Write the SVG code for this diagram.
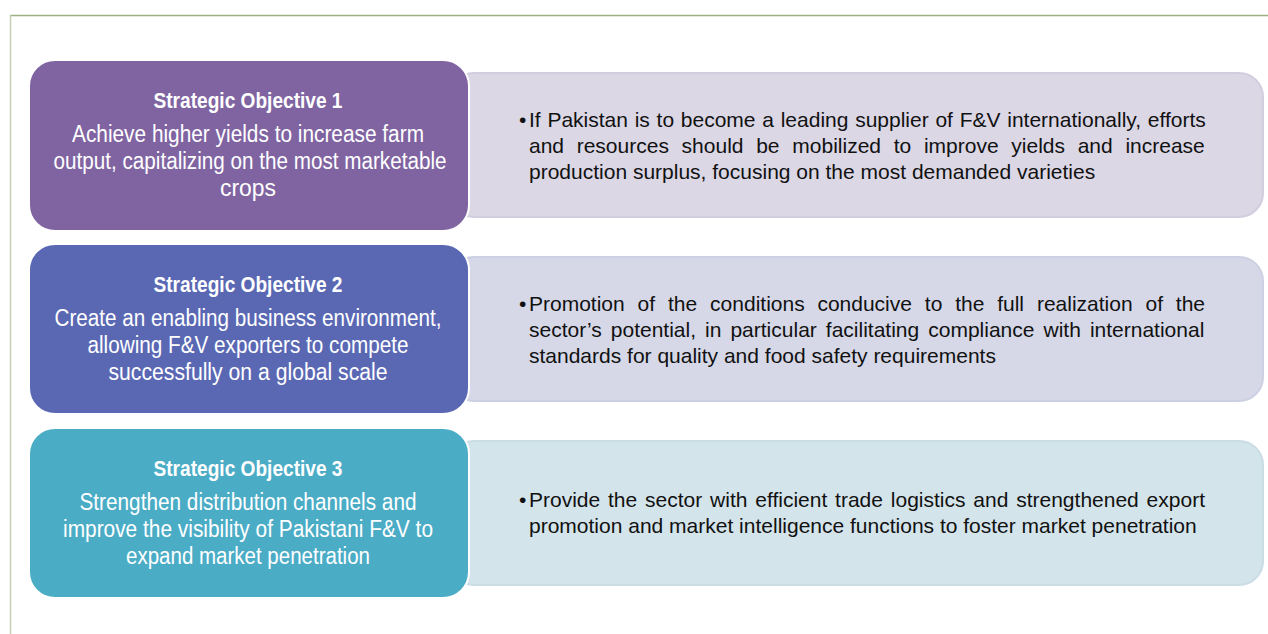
<svg xmlns="http://www.w3.org/2000/svg" width="1268" height="634" viewBox="0 0 1268 634">
<style>
.frame-top{stroke:#9cb083;stroke-width:1.5;fill:none}
.frame-left{stroke:#c6cdb6;stroke-width:1.5;fill:none}
.obj{stroke:#ffffff;stroke-width:2}
.det{stroke-width:2}
.title{font-family:"Liberation Sans",Arial,sans-serif;font-size:22px;font-weight:bold;fill:#ffffff;text-anchor:middle}
.body{font-family:"Liberation Sans",Arial,sans-serif;font-size:23px;fill:#ffffff;text-anchor:middle}
.txt{font-family:"Liberation Sans",Arial,sans-serif;font-size:21px;fill:#111111}
</style>
<rect width="1268" height="634" fill="#ffffff"/>
<path class="frame-top" d="M10 15.5 H1268"/>
<path class="frame-left" d="M10.5 15 V634"/>

<g id="detail1">
<rect class="det" x="450" y="73" width="813" height="144" rx="24" fill="#dbd7e5" stroke="#d2cddf"/>
<text class="txt" x="519" y="127">•</text>
<text class="txt" x="529" y="127" word-spacing="0.9">If Pakistan is to become a leading supplier of F&amp;V internationally, efforts</text>
<text class="txt" y="153"><tspan x="529">and</tspan> <tspan x="576.7">resources</tspan> <tspan x="681.6">should</tspan> <tspan x="756.2">be</tspan> <tspan x="792.3">mobilized</tspan> <tspan x="893.7">to</tspan> <tspan x="923.9">improve</tspan> <tspan x="1011.3">yields</tspan> <tspan x="1077.7">and</tspan> <tspan x="1125.4">increase</tspan></text>
<text class="txt" x="529" y="179">production surplus, focusing on the most demanded varieties</text>
</g>
<g id="detail2">
<rect class="det" x="450" y="257" width="813" height="144" rx="24" fill="#d6d8e7" stroke="#cdd0e2"/>
<text class="txt" x="519" y="311">•</text>
<text class="txt" y="311"><tspan x="529">Promotion</tspan> <tspan x="637.6">of</tspan> <tspan x="668">the</tspan> <tspan x="710.1">conditions</tspan> <tspan x="817.4">conducive</tspan> <tspan x="924.8">to</tspan> <tspan x="955.2">the</tspan> <tspan x="997.2">full</tspan> <tspan x="1036.9">realization</tspan> <tspan x="1145.5">of</tspan> <tspan x="1175.8">the</tspan></text>
<text class="txt" x="529" y="337" word-spacing="3.2">sector’s potential, in particular facilitating compliance with international</text>
<text class="txt" x="529" y="363">standards for quality and food safety requirements</text>
</g>
<g id="detail3">
<rect class="det" x="450" y="441" width="813" height="144" rx="24" fill="#d4e4eb" stroke="#cadde5"/>
<text class="txt" x="519" y="507">•</text>
<text class="txt" x="529" y="507" word-spacing="2">Provide the sector with efficient trade logistics and strengthened export</text>
<text class="txt" x="529" y="533">promotion and market intelligence functions to foster market penetration</text>
</g>

<g id="objective1">
<rect class="obj" x="29" y="60" width="440" height="171" rx="26" fill="#8064a2"/>
<text class="title" x="248" y="108" textLength="189" lengthAdjust="spacingAndGlyphs">Strategic Objective 1</text>
<text class="body" x="248" y="142" textLength="352" lengthAdjust="spacingAndGlyphs">Achieve higher yields to increase farm</text>
<text class="body" x="250" y="169" textLength="393" lengthAdjust="spacingAndGlyphs">output, capitalizing on the most marketable</text>
<text class="body" x="248" y="196" textLength="56" lengthAdjust="spacingAndGlyphs">crops</text>
</g>
<g id="objective2">
<rect class="obj" x="29" y="244" width="440" height="170" rx="26" fill="#5a68b4"/>
<text class="title" x="248" y="292" textLength="189" lengthAdjust="spacingAndGlyphs">Strategic Objective 2</text>
<text class="body" x="248" y="326" textLength="387" lengthAdjust="spacingAndGlyphs">Create an enabling business environment,</text>
<text class="body" x="248" y="353" textLength="321" lengthAdjust="spacingAndGlyphs">allowing F&amp;V exporters to compete</text>
<text class="body" x="248" y="380" textLength="279" lengthAdjust="spacingAndGlyphs">successfully on a global scale</text>
</g>
<g id="objective3">
<rect class="obj" x="29" y="428" width="440" height="170" rx="26" fill="#4bacc6"/>
<text class="title" x="248" y="476" textLength="189" lengthAdjust="spacingAndGlyphs">Strategic Objective 3</text>
<text class="body" x="248" y="510" textLength="337" lengthAdjust="spacingAndGlyphs">Strengthen distribution channels and</text>
<text class="body" x="248" y="537" textLength="370" lengthAdjust="spacingAndGlyphs">improve the visibility of Pakistani F&amp;V to</text>
<text class="body" x="248" y="564" textLength="244" lengthAdjust="spacingAndGlyphs">expand market penetration</text>
</g>
<g id="connectors"></g>
</svg>
